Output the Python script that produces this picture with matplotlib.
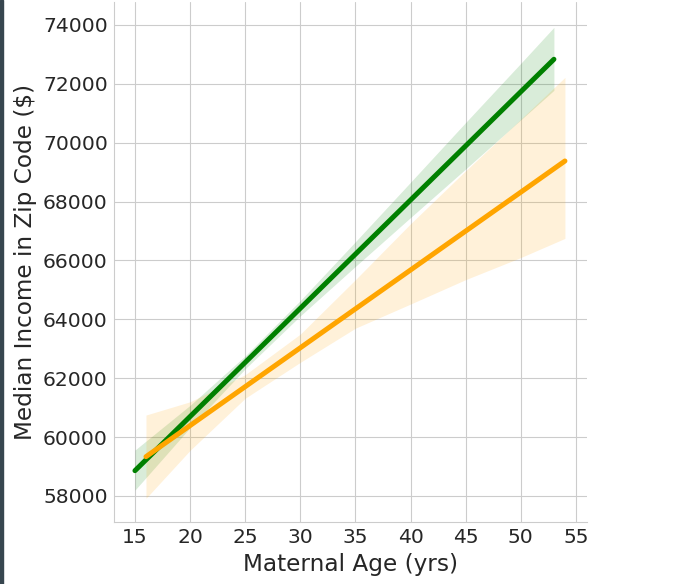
import matplotlib
matplotlib.use("Agg")
import matplotlib.pyplot as plt
import seaborn as sns
from matplotlib.patches import Rectangle

# fitted lines
green_x = [15, 20, 25, 30, 35, 40, 45, 50, 53]
green_fit = [58860, 60699, 62538, 64377, 66216, 68055, 69894, 71733, 72835]
green_lo = [58200, 60320, 62320, 64120, 65800, 67460, 69110, 70780, 71780]
green_hi = [59560, 61080, 62760, 64640, 66640, 68660, 70690, 72700, 73920]

orange_x = [16, 20, 25, 30, 35, 40, 45, 50, 54]
orange_fit = [59335, 60392, 61714, 63035, 64357, 65678, 67000, 68321, 69380]
orange_lo = [57920, 59550, 61320, 62540, 63700, 64520, 65350, 66100, 66750]
orange_hi = [60750, 61200, 62120, 63500, 65350, 67250, 69050, 70800, 72220]

xticks = [15, 20, 25, 30, 35, 40, 45, 50, 55]
yticks = [58000, 60000, 62000, 64000, 66000, 68000, 70000, 72000, 74000]

sns.set_style("whitegrid", {"grid.linewidth": 1.4, "axes.linewidth": 1.4})
fig = plt.figure(figsize=(6.73, 5.84), dpi=100)
ax = fig.add_axes([0.1694, 0.1062, 0.7028, 0.8904])

ax.fill_between(green_x, green_lo, green_hi, color="green", alpha=0.15, lw=0)
ax.plot(green_x, green_fit, color="green", lw=3.6, solid_capstyle="round")
ax.fill_between(orange_x, orange_lo, orange_hi, color="orange", alpha=0.15, lw=0)
ax.plot(orange_x, orange_fit, color="orange", lw=3.6, solid_capstyle="round")

ax.set_xlim(13.1, 56.0)
ax.set_ylim(57117, 74781)
ax.set_xticks(xticks)
ax.set_yticks(yticks)
ax.tick_params(labelsize=14.6, colors="0.15", length=0, pad=4.5)
ax.set_xlabel("Maternal Age (yrs)", fontsize=16.7, color="0.15", labelpad=4)
ax.set_ylabel("Median Income in Zip Code (\\$)", fontsize=16.7, color="0.15", labelpad=4)
sns.despine(ax=ax)

fig.patches.append(Rectangle((0, 0), 3 / 673, 1, transform=fig.transFigure,
                             color="#37464f", zorder=10))

fig.savefig("out.png", dpi=100)
